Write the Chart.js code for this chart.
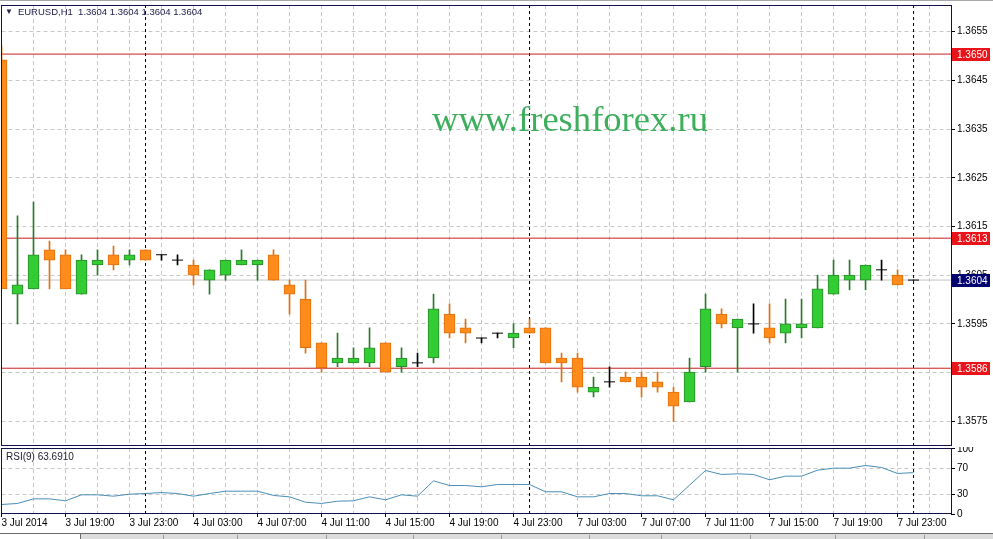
<!DOCTYPE html>
<html>
<head>
<meta charset="utf-8">
<script src="https://cdn.jsdelivr.net/npm/chart.js@4.4.1/dist/chart.umd.min.js"></script>
<style>
  body { margin: 0; width: 993px; height: 539px; position: relative; overflow: hidden; background: #fff;
         font-family: "Liberation Sans", Arial, sans-serif; }
  canvas { position: absolute; left: 0; }
  #main { top: 0; }
  #rsi { top: 447px; }
  .topline { position: absolute; left: 0; top: 0; width: 993px; height: 1px; background: #a8a8a8; }
  .hdr { position: absolute; left: 5px; top: 6px; font-size: 9.5px; line-height: 12px; color: #202050; white-space: pre; }
  .hdr .tri { font-size: 8px; margin-right: 5px; vertical-align: 1px; }
  .rsiname { position: absolute; left: 6px; top: 451px; font-size: 10px; line-height: 12px; color: #202030; }
  .wm { position: absolute; left: 432px; top: 101px; font-family: "Liberation Serif", "Times New Roman", serif;
        font-size: 36.6px; line-height: 36px; color: #3dae5c; white-space: nowrap; }
  .tabs { position: absolute; left: 0; top: 533px; width: 993px; height: 6px; border-top: 1px solid #6a6a6a; background: #dcdcdc; }
  .tabs .first { position: absolute; left: 0; top: 0; width: 80px; height: 6px; background: #fff; border-right: 1px solid #6a6a6a; }
  .tabs .sep { position: absolute; top: 1px; width: 1px; height: 5px; background: #9a9a9a; }
</style>
</head>
<body>
<div class="topline"></div>
<canvas id="main" width="993" height="447"></canvas>
<canvas id="rsi" width="993" height="85"></canvas>
<div class="hdr"><span class="tri">▼</span>EURUSD,H1  1.3604 1.3604 1.3604 1.3604</div>
<div class="rsiname">RSI(9) 63.6910</div>
<div class="wm">www.freshforex.ru</div>
<div class="tabs" id="tabs"><div class="first"></div></div>
<script>
// ---- data (EURUSD H1, 3 Jul 15:00 .. 8 Jul 00:00) ----
const timeLabels = ['3 Jul 2014', '3 Jul 19:00', '3 Jul 23:00', '4 Jul 03:00', '4 Jul 07:00',
    '4 Jul 11:00', '4 Jul 15:00', '4 Jul 19:00', '4 Jul 23:00', '7 Jul 03:00',
    '7 Jul 07:00', '7 Jul 11:00', '7 Jul 15:00', '7 Jul 19:00', '7 Jul 23:00'];
const barsPerLabel = 4;
const daySeparators = [9, 33, 57];

const open = [1.36492, 1.36011, 1.36022, 1.36102, 1.36092, 1.36011, 1.36071, 1.36092, 1.36081, 1.36102,
    1.36092, 1.36081, 1.36071, 1.36040, 1.36050, 1.36071, 1.36071, 1.36092, 1.36030, 1.36001,
    1.35911, 1.35870, 1.35870, 1.35870, 1.35911, 1.35862, 1.35870, 1.35880, 1.35970, 1.35942,
    1.35921, 1.35931, 1.35921, 1.35942, 1.35942, 1.35880, 1.35880, 1.35810, 1.35831, 1.35841,
    1.35841, 1.35831, 1.35810, 1.35790, 1.35862, 1.35970, 1.35942, 1.35950, 1.35942, 1.35931,
    1.35942, 1.35942, 1.36011, 1.36040, 1.36040, 1.36061, 1.36050, 1.36040];
const high = [1.36521, 1.36172, 1.36200, 1.36120, 1.36102, 1.36092, 1.36102, 1.36110, 1.36102, 1.36102,
    1.36092, 1.36092, 1.36081, 1.36061, 1.36081, 1.36102, 1.36081, 1.36102, 1.36040, 1.36040,
    1.35911, 1.35931, 1.35901, 1.35942, 1.35911, 1.35901, 1.35890, 1.36011, 1.35991, 1.35960,
    1.35921, 1.35931, 1.35950, 1.35960, 1.35942, 1.35890, 1.35890, 1.35841, 1.35862, 1.35851,
    1.35851, 1.35851, 1.35820, 1.35880, 1.36011, 1.35981, 1.35960, 1.35991, 1.35991, 1.36001,
    1.36001, 1.36050, 1.36081, 1.36081, 1.36071, 1.36081, 1.36061, 1.36040];
const low = [1.36022, 1.35950, 1.36022, 1.36022, 1.36022, 1.36011, 1.36050, 1.36061, 1.36071, 1.36081,
    1.36081, 1.36071, 1.36030, 1.36011, 1.36040, 1.36071, 1.36040, 1.36040, 1.35970, 1.35890,
    1.35851, 1.35862, 1.35870, 1.35862, 1.35851, 1.35851, 1.35862, 1.35870, 1.35921, 1.35911,
    1.35911, 1.35921, 1.35901, 1.35931, 1.35870, 1.35831, 1.35810, 1.35800, 1.35820, 1.35831,
    1.35800, 1.35810, 1.35749, 1.35790, 1.35851, 1.35942, 1.35851, 1.35931, 1.35911, 1.35911,
    1.35921, 1.35942, 1.36011, 1.36020, 1.36020, 1.36040, 1.36030, 1.36040];
const close = [1.36022, 1.36030, 1.36092, 1.36081, 1.36022, 1.36081, 1.36081, 1.36071, 1.36092, 1.36081,
    1.36092, 1.36081, 1.36050, 1.36061, 1.36081, 1.36081, 1.36081, 1.36040, 1.36011, 1.35901,
    1.35860, 1.35880, 1.35880, 1.35901, 1.35851, 1.35880, 1.35870, 1.35981, 1.35931, 1.35931,
    1.35921, 1.35931, 1.35931, 1.35931, 1.35870, 1.35870, 1.35820, 1.35820, 1.35831, 1.35831,
    1.35820, 1.35820, 1.35781, 1.35851, 1.35981, 1.35950, 1.35960, 1.35950, 1.35921, 1.35950,
    1.35950, 1.36022, 1.36050, 1.36050, 1.36071, 1.36061, 1.36030, 1.36040];
const rsi = [14.6, 16.2, 23.3, 23.3, 20.3, 29.5, 29.5, 27.4, 30.5, 31.5,
    33.0, 31.5, 27.4, 31.5, 35.1, 35.1, 35.1, 28.5, 26.4, 18.2,
    16.2, 19.7, 20.3, 26.4, 21.8, 29.5, 27.4, 51.0, 43.8, 43.8,
    41.8, 45.4, 45.4, 45.4, 34.1, 34.1, 26.4, 26.4, 31.5, 31.5,
    28.0, 28.0, 21.8, 44.3, 66.9, 60.8, 61.8, 60.8, 52.6, 58.2,
    58.2, 67.4, 70.5, 70.5, 74.6, 71.5, 62.3, 63.7];

const levels = [1.36504, 1.36126, 1.35859];   // horizontal lines
const bid = 1.3604;
const priceTicks = [1.3575, 1.3585, 1.3595, 1.3605, 1.3615, 1.3625, 1.3635, 1.3645, 1.3655];
const rsiTicks = [0, 30, 70, 100];

// ---- view ----
const xMax = 59.34;
const yMin = 1.356993, yMax = 1.366048;
const FONT = { family: 'Liberation Sans', size: 10 };
const GRID = '#c8c8c8';
const gridIdx = [];
for (let i = 0; i <= 58; i += 2) gridIdx.push(i);

const isDoji = i => open[i] === close[i];
const isBull = i => close[i] > open[i];

const bodyPts = [], wickPts = [], dojiPts = [];
open.forEach((o, i) => {
    wickPts.push({ x: i, y: [low[i], high[i]] });
    if (isDoji(i)) dojiPts.push({ x: i, y: close[i] });
    else bodyPts.push({ x: i, y: [o, close[i]] });
});

const wickColor = c => isDoji(c.raw.x) ? '#000000' : (isBull(c.raw.x) ? '#2b7a2b' : '#e0700f');

function hLine(v, color, order) {
    return { type: 'line', data: [{ x: 0, y: v }, { x: xMax, y: v }], borderColor: color,
             borderWidth: 1, pointRadius: 0, order: order };
}
function vLine(idx, lo, hi) {
    return { type: 'line', data: [{ x: idx, y: lo }, { x: idx, y: hi }], borderColor: '#000',
             borderWidth: 1, borderDash: [3, 3], pointRadius: 0, order: 9 };
}

// рамка панели
const framePlugin = {
    id: 'frame',
    afterDraw(chart) {
        const a = chart.chartArea, ctx = chart.ctx;
        const l = Math.floor(a.left), t = Math.round(a.top), r = Math.round(a.right), b = Math.round(a.bottom);
        ctx.save();
        ctx.strokeStyle = '#10104a';
        ctx.lineWidth = 1;
        ctx.strokeRect(l + 0.5, t + 0.5, r - l, b - t - 1);
        ctx.restore();
    }
};

// ценовые метки справа
const tagPlugin = {
    id: 'tags',
    afterDraw(chart) {
        const y = chart.scales.y, ctx = chart.ctx, x0 = Math.round(chart.chartArea.right) + 1;
        const tags = levels.map(v => [v, '#e8141a']).concat([[bid, '#00006e']]);
        ctx.save();
        ctx.font = '10px "Liberation Sans"';
        ctx.textBaseline = 'middle';
        tags.forEach(([v, col]) => {
            const py = Math.round(y.getPixelForValue(v));
            ctx.fillStyle = col;
            ctx.fillRect(x0, py - 6, 38, 13);
            ctx.fillStyle = '#fff';
            ctx.fillText(v.toFixed(4), x0 + 5, py + 1);
        });
        ctx.restore();
    }
};

const baseOpts = {
    responsive: false,
    animation: false,
    events: [],
    plugins: { legend: { display: false }, tooltip: { enabled: false } }
};

const mainChart = new Chart(document.getElementById('main'), {
    type: 'bar',
    data: {
        datasets: [
            { type: 'line', data: dojiPts, showLine: false, pointStyle: 'line', pointRadius: 5.5,
              pointBorderColor: '#000', pointBorderWidth: 1, borderColor: '#000', order: 0 },
            { data: bodyPts, grouped: false, barThickness: 11, borderWidth: 1, borderSkipped: false, clip: 0,
              backgroundColor: c => isBull(c.raw.x) ? '#32cd32' : '#ff8c1a',
              borderColor: c => isBull(c.raw.x) ? '#2a8a2a' : '#e0700f', order: 1 },
            { data: wickPts, grouped: false, barThickness: 1, borderWidth: 0, clip: 0,
              backgroundColor: wickColor, order: 2 },
            hLine(bid, '#c4c4c4', 3),
            ...levels.map(v => hLine(v, '#c81e1e', 4)),
            ...daySeparators.map(i => vLine(i, yMin, yMax))
        ]
    },
    options: {
        ...baseOpts,
        layout: { autoPadding: false, padding: { left: 1.5, top: 5, right: 0, bottom: 1 } },
        scales: {
            x: {
                type: 'linear', min: 0, max: xMax, offset: false,
                afterBuildTicks: s => { s.ticks = gridIdx.map(v => ({ value: v })); },
                afterFit: s => { s.height = 0; s.paddingLeft = 0; s.paddingRight = 0; },
                ticks: { display: false },
                grid: { color: GRID, drawTicks: false, offset: false },
                border: { display: false, dash: [4, 3] }
            },
            y: {
                position: 'right', min: yMin, max: yMax,
                afterBuildTicks: s => { s.ticks = priceTicks.map(v => ({ value: v })); },
                afterFit: s => { s.width = 42; s.paddingTop = 0; s.paddingBottom = 0; },
                ticks: { color: '#000', font: FONT, padding: 2, callback: v => v.toFixed(4) },
                grid: { color: GRID, tickColor: '#000', tickLength: 4 },
                border: { display: false, dash: [4, 3] }
            }
        }
    },
    plugins: [framePlugin, tagPlugin]
});

const rsiChart = new Chart(document.getElementById('rsi'), {
    type: 'line',
    data: {
        datasets: [
            { data: rsi.map((v, i) => ({ x: i, y: v })), borderColor: '#4a8db5', borderWidth: 1,
              pointRadius: 0, tension: 0, order: 0 },
            ...daySeparators.map(i => vLine(i, 0, 101.5))
        ]
    },
    options: {
        ...baseOpts,
        layout: { autoPadding: false, padding: { left: 1.5, top: 1, right: 0, bottom: 0 } },
        scales: {
            x: {
                type: 'linear', min: 0, max: xMax,
                afterBuildTicks: s => { s.ticks = gridIdx.map(v => ({ value: v })); },
                afterFit: s => { s.height = 18; s.paddingLeft = 0; s.paddingRight = 0; },
                ticks: { align: 'start', maxRotation: 0, autoSkip: false, padding: 0, color: '#000', font: FONT,
                         callback: v => v % barsPerLabel === 0 ? timeLabels[v / barsPerLabel] : '' },
                grid: { color: GRID, tickLength: 3,
                        tickColor: c => (c.tick && c.tick.value % barsPerLabel === 0) ? '#000' : 'rgba(0,0,0,0)' },
                border: { display: false, dash: [4, 3] }
            },
            y: {
                position: 'right', min: 0, max: 101.5,
                afterBuildTicks: s => { s.ticks = rsiTicks.map(v => ({ value: v })); },
                afterFit: s => { s.width = 42; s.paddingTop = 0; s.paddingBottom = 0; },
                ticks: { color: '#000', font: FONT, padding: 2 },
                grid: { color: c => (c.tick && (c.tick.value === 30 || c.tick.value === 70)) ? GRID : 'rgba(0,0,0,0)',
                        tickColor: '#000', tickLength: 4 },
                border: { display: false, dash: [4, 3] }
            }
        }
    },
    plugins: [framePlugin]
});

// вкладки внизу
[163, 237, 326, 413, 501, 589, 661, 750, 835, 924].forEach(x => {
    const d = document.createElement('div');
    d.className = 'sep';
    d.style.left = x + 'px';
    document.getElementById('tabs').appendChild(d);
});
</script>
</body>
</html>
